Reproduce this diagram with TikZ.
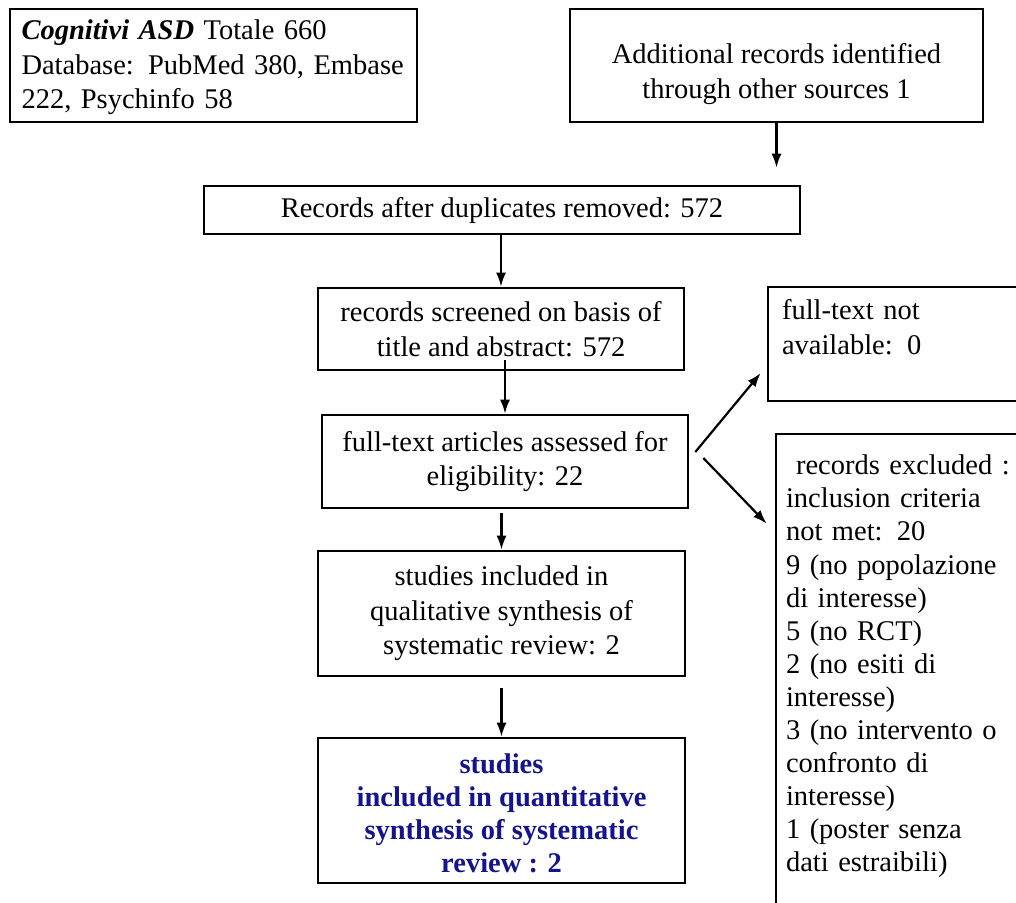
\documentclass[tikz,border=0pt]{standalone}
\usepackage{fontspec}
\setmainfont{Liberation Serif}
\usetikzlibrary{arrows.meta,calc}
\definecolor{navyblue}{RGB}{20,20,140}
\begin{document}
\begin{tikzpicture}[x=1pt,y=-1pt,
  box/.style={draw, line width=2.6pt, inner sep=0pt, align=center, font=\fontsize{28.5}{34.5}\selectfont},
  arr/.style={line width=2.2pt, -{Latex[length=14pt,width=10pt]}}]
\useasboundingbox (0,0) rectangle (1016,902);
\clip (0,0) rectangle (1016,902);
\fill[white] (0,0) rectangle (1016,902);
\node[box, minimum width=407pt, minimum height=113pt, text width=384pt, align=left] (b1) at (213.5,65.5)
  {\rule{0pt}{24pt}\textbf{\textit{Cognitivi ASD}} Totale 660\\Database: PubMed 380, Embase\\222, Psychinfo 58};
\node[box, minimum width=413pt, minimum height=113pt] (b2) at (776.5,65.5)
  {\rule{0pt}{37pt}Additional records identified\\through other sources 1};
\node[box, minimum width=596pt, minimum height=48pt] (b3) at (502,210)
  {Records after duplicates removed: 572};
\node[box, minimum width=366pt, minimum height=82pt] (b4) at (501,329)
  {records screened on basis of\\title and abstract: 572};
\node[box, minimum width=366pt, minimum height=93pt] (b5) at (505,461.5)
  {full-text articles assessed for\\eligibility: 22};
\node[box, minimum width=262pt, minimum height=114pt, text width=234pt, align=left] (b6) at (899,344)
  {full-text not\\available: 0\\\mbox{}};
\node[box, minimum width=254pt, minimum height=492pt, text width=234pt, align=left,
  font=\fontsize{28.5}{33.1}\selectfont] (b7) at (903,680)
  {\hspace*{10pt}records excluded :\\inclusion criteria\\not met: 20\\9 (no popolazione\\di interesse)\\5 (no RCT)\\2 (no esiti di\\interesse)\\3 (no intervento o\\confronto di\\interesse)\\1 (poster senza\\dati estraibili)\\\mbox{}};
\node[box, minimum width=367pt, minimum height=125pt] (b8) at (501.5,613.5)
  {studies included in\\qualitative synthesis of\\systematic review: 2};
\node[box, minimum width=367pt, minimum height=145pt, text=navyblue,
  font=\fontsize{28.5}{33}\selectfont\bfseries] (b9) at (501.5,810.5)
  {\rule{0pt}{26pt}studies\\included in quantitative\\synthesis of systematic\\review : 2};
\draw[arr, shorten >=17pt] (b2.south) -- (b2.south |- b3.north);
\draw[arr] (b4.north |- b3.south) -- (b4.north);
\draw[arr] ($(b5.north |- b4.south)+(0,-11)$) -- (b5.north);
\draw[arr, shorten <=4pt] (b8.north |- b5.south) -- (b8.north);
\draw[arr, shorten <=11pt] (b9.north |- b8.south) -- (b9.north);
\draw[arr] ($(b5.east)+(6,-9.5)$) -- ($(b6.west)+(-6,29)$);
\draw[arr] ($(b5.east)+(14,-3.5)$) -- ($(b7.north west)+(-8,91)$);
\end{tikzpicture}
\end{document}
